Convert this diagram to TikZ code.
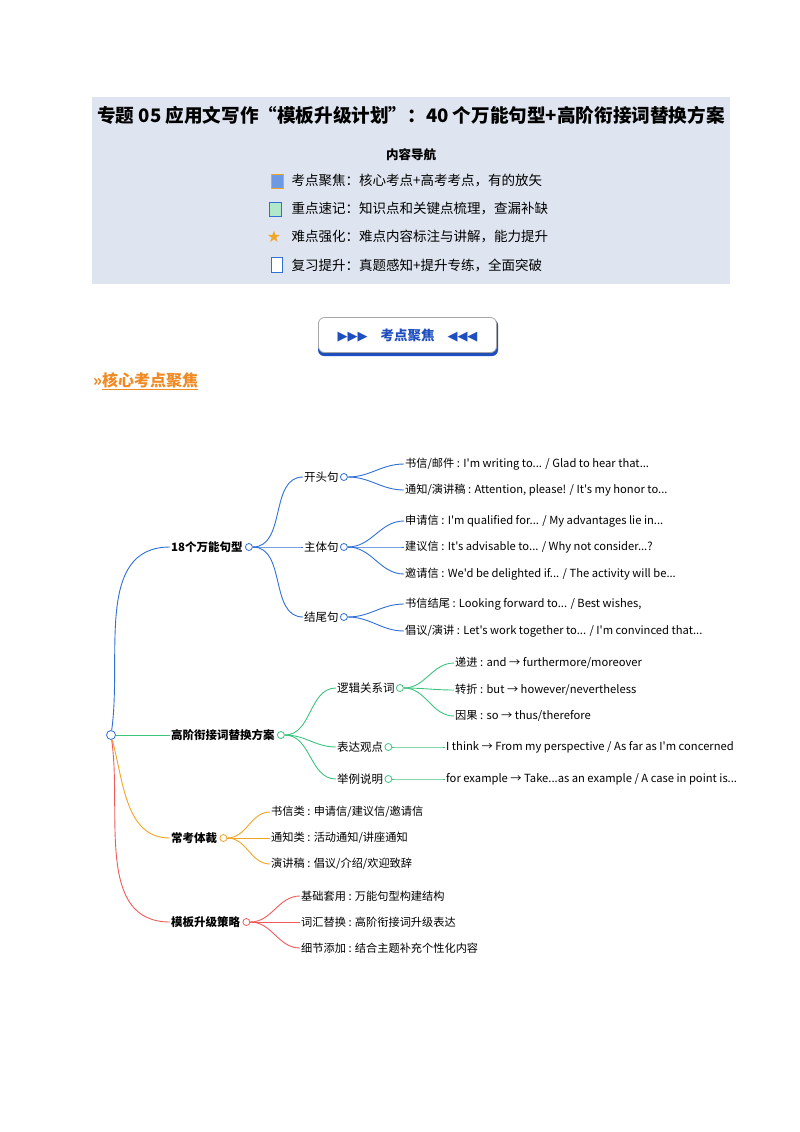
\documentclass[tikz,border=0pt]{standalone}
\usepackage{fontspec}
\setmainfont{Noto Sans CJK SC}[Ligatures=TeXOff]
\newfontfamily\symfont{DejaVu Sans}
\definecolor{hdrbg}{HTML}{DFE5F0}
\definecolor{mblue}{HTML}{2F6FD6}
\definecolor{mgreen}{HTML}{3CC47C}
\definecolor{morange}{HTML}{F0A526}
\definecolor{mred}{HTML}{F05A5A}
\definecolor{navblue}{HTML}{1F4FBF}
\definecolor{secorange}{HTML}{F08A24}
\begin{document}
\begin{tikzpicture}[x=1pt,y=1pt,
  dot/.style = {circle, draw, fill=white, inner sep=0pt, minimum size=7pt, line width=0.8pt},
  topic/.style = {anchor=west, inner sep=1pt, font=\fontsize{11.5}{13}\selectfont\bfseries},
  sub/.style = {anchor=west, inner sep=1pt, font=\fontsize{11.5}{13}\selectfont},
  leaf/.style = {anchor=west, inner sep=1pt, font=\fontsize{11.2}{13}\selectfont},
  navitem/.style = {anchor=west, font=\fontsize{13.5}{15}\selectfont},
  link/.style = {line width=0.9pt, out=0, in=180}]
\useasboundingbox (0,0) rectangle (800,-1132);
% header
\fill[hdrbg] (92,-97) rectangle (730,-284);
\node (title) at (411,-115) {\fontsize{18.6}{22}\selectfont\bfseries 专题 05 应用文写作“模板升级计划”：40 个万能句型+高阶衔接词替换方案};
\node (nav) at (411,-155) {\fontsize{12.5}{14}\selectfont\bfseries 内容导航};
\node[navitem] (nav1) at (288,-181) {考点聚焦：核心考点+高考考点，有的放矢};
\node[navitem] (nav2) at (288,-209) {重点速记：知识点和关键点梳理，查漏补缺};
\node[navitem] (nav3) at (288,-237) {难点强化：难点内容标注与讲解，能力提升};
\node[navitem] (nav4) at (288,-265) {复习提升：真题感知+提升专练，全面突破};
\node[fill=mblue!70, draw=morange, minimum width=12pt, minimum height=14pt, inner sep=0pt] (ico1) at (277,-181) {};
\node[fill=mgreen!40, draw=mblue, minimum width=12pt, minimum height=14pt, inner sep=0pt] (ico2) at (275,-209) {};
\node[text=morange] (ico3) at (274,-237) {\symfont\fontsize{16}{16}\selectfont ★};
\node[fill=white, draw=mblue, minimum width=11pt, minimum height=15pt, inner sep=0pt] (ico4) at (277,-265) {};
% banner
\fill[navblue, rounded corners=6pt] (318,-319) rectangle (498,-356);
\node[draw=gray!70, fill=white, rounded corners=6pt, line width=0.8pt, minimum width=178pt, minimum height=35pt] (banner) at (407.5,-335) {};
\node[text=navblue] (bantext) at (407.5,-335) {\symfont\fontsize{13}{13}\selectfont ▶▶▶\quad{\rmfamily\fontsize{13.5}{14}\selectfont\bfseries 考点聚焦}\quad ◀◀◀};
\node[anchor=west, text=secorange, inner sep=0pt] (sec) at (93,-381) {\fontsize{16}{18}\selectfont\bfseries »\underline{核心考点聚焦}};
% mind map
\node[dot, draw=mblue, minimum size=9pt] (root) at (111,-735) {};
\node[topic] (t1) at (170,-547) {18个万能句型};
\node[dot, draw=mblue] (t1c) at (t1.east) [xshift=5pt] {};
\node[sub] (s11) at (303,-477) {开头句};
\node[dot, draw=mblue] (s11c) at (s11.east) [xshift=4pt] {};
\node[sub] (s12) at (303,-547) {主体句};
\node[dot, draw=mblue] (s12c) at (s12.east) [xshift=4pt] {};
\node[sub] (s13) at (303,-617) {结尾句};
\node[dot, draw=mblue] (s13c) at (s13.east) [xshift=4pt] {};
\node[leaf] (l111) at (404,-464) {书信/邮件 : I'm writing to... / Glad to hear that...};
\node[leaf] (l112) at (404,-490) {通知/演讲稿 : Attention, please! / It's my honor to...};
\node[leaf] (l121) at (404,-521) {申请信 : I'm qualified for... / My advantages lie in...};
\node[leaf] (l122) at (404,-547) {建议信 : It's advisable to... / Why not consider...?};
\node[leaf] (l123) at (404,-574) {邀请信 : We'd be delighted if... / The activity will be...};
\node[leaf] (l131) at (404,-604) {书信结尾 : Looking forward to... / Best wishes,};
\node[leaf] (l132) at (404,-631) {倡议/演讲 : Let's work together to... / I'm convinced that...};
\node[topic] (t2) at (170,-735) {高阶衔接词替换方案};
\node[dot, draw=mgreen] (t2c) at (t2.east) [xshift=5pt] {};
\node[sub] (s21) at (336,-688) {逻辑关系词};
\node[dot, draw=mgreen] (s21c) at (s21.east) [xshift=4pt] {};
\node[sub] (s22) at (336,-747) {表达观点};
\node[dot, draw=mgreen] (s22c) at (s22.east) [xshift=4pt] {};
\node[sub] (s23) at (336,-779) {举例说明};
\node[dot, draw=mgreen] (s23c) at (s23.east) [xshift=4pt] {};
\node[leaf] (l211) at (454,-663) {递进 : and → furthermore/moreover};
\node[leaf] (l212) at (454,-690) {转折 : but → however/nevertheless};
\node[leaf] (l213) at (454,-716) {因果 : so → thus/therefore};
\node[leaf] (l221) at (445,-747) {I think → From my perspective / As far as I'm concerned};
\node[leaf] (l231) at (445,-779) {for example → Take...as an example / A case in point is...};
\node[topic] (t3) at (170,-838) {常考体裁};
\node[dot, draw=morange] (t3c) at (t3.east) [xshift=5pt] {};
\node[leaf] (l31) at (270,-812) {书信类 : 申请信/建议信/邀请信};
\node[leaf] (l32) at (270,-838) {通知类 : 活动通知/讲座通知};
\node[leaf] (l33) at (270,-864) {演讲稿 : 倡议/介绍/欢迎致辞};
\node[topic] (t4) at (170,-922) {模板升级策略};
\node[dot, draw=mred] (t4c) at (t4.east) [xshift=5pt] {};
\node[leaf] (l41) at (300,-896) {基础套用 : 万能句型构建结构};
\node[leaf] (l42) at (300,-922) {词汇替换 : 高阶衔接词升级表达};
\node[leaf] (l43) at (300,-948) {细节添加 : 结合主题补充个性化内容};
% connectors
\draw[mblue, link, out=82] (root) to (t1.west);
\draw[mgreen, line width=0.9pt] (root) -- (t2.west);
\draw[morange, link, out=-75] (root) to (t3.west);
\draw[mred, link, out=-82] (root) to (t4.west);
\foreach \a/\b in {t1c/s11, t1c/s12, t1c/s13, s11c/l111, s11c/l112, s12c/l121, s12c/l122, s12c/l123, s13c/l131, s13c/l132}
  \draw[mblue, link] (\a) to (\b.west);
\foreach \a/\b in {t2c/s21, t2c/s22, t2c/s23, s21c/l211, s21c/l212, s21c/l213, s22c/l221, s23c/l231}
  \draw[mgreen, link] (\a) to (\b.west);
\foreach \b in {l31, l32, l33}
  \draw[morange, link] (t3c) to (\b.west);
\foreach \b in {l41, l42, l43}
  \draw[mred, link] (t4c) to (\b.west);
\end{tikzpicture}
\end{document}
